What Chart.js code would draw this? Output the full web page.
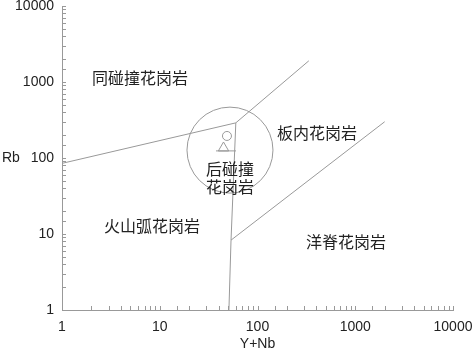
<!DOCTYPE html>
<html>
<head>
<meta charset="utf-8">
<script src="https://cdn.jsdelivr.net/npm/chart.js@4.4.1/dist/chart.umd.min.js"></script>
<style>
  html, body { margin: 0; padding: 0; background: #fff; }
  #wrap { width: 472px; height: 353px; }
</style>
</head>
<body>
<div id="wrap"><canvas id="pearceChart"></canvas></div>
<script>
// field boundaries, points are (Y+Nb, Rb)
const synColVagLine = [{x: 1, y: 85}, {x: 60, y: 290}];
const synColWpgLine = [{x: 60, y: 290}, {x: 335, y: 1900}];
const vagWpgLine = [{x: 60, y: 290}, {x: 53.6, y: 8.3}, {x: 51, y: 1}];
const orgWpgLine = [{x: 53.6, y: 8.3}, {x: 2000, y: 300}];
const postColCentre = [{x: 52.3, y: 127}];

// samples
const circleSamples = [{x: 48.7, y: 195}];
const triangleSamples = [{x: 44.9, y: 135.5}];
const dashSamples = [{x: 47.6, y: 124}];

// field names and where they sit (Y+Nb, Rb)
const fieldNames = ['同碰撞花岗岩', '板内花岗岩', '后碰撞', '花岗岩', '火山弧花岗岩', '洋脊花岗岩'];
const fieldX = [6.28, 406, 52.3, 52.3, 8.33, 804];
const fieldY = [1130, 213, 71.7, 41.5, 12.7, 7.85];

const tickLabels = [1, 10, 100, 1000, 10000];

const lineColor = '#999';

function boundary(points) {
    return {
        data: points,
        showLine: true,
        borderColor: lineColor,
        borderWidth: 1,
        pointRadius: 0,
        fill: false
    };
}

function marker(points, style, radius) {
    return {
        data: points,
        showLine: false,
        pointStyle: style,
        pointRadius: radius,
        pointBorderColor: lineColor,
        pointBackgroundColor: 'rgba(0,0,0,0)',
        pointBorderWidth: 1
    };
}

// inward ticks, field names, axis titles
const decorPlugin = {
    id: 'decor',
    afterDraw(chart) {
        const ctx = chart.ctx;
        const xs = chart.scales.x;
        const ys = chart.scales.y;
        const area = chart.chartArea;
        ctx.save();
        ctx.strokeStyle = lineColor;
        ctx.lineWidth = 1;
        ctx.beginPath();
        xs.ticks.forEach(t => {
            const px = Math.round(xs.getPixelForValue(t.value)) + 0.5;
            ctx.moveTo(px, area.bottom);
            ctx.lineTo(px, area.bottom - 4);
        });
        ys.ticks.forEach(t => {
            const py = Math.round(ys.getPixelForValue(t.value)) + 0.5;
            ctx.moveTo(area.left, py);
            ctx.lineTo(area.left + 4, py);
        });
        ctx.stroke();

        ctx.fillStyle = '#222';
        ctx.textAlign = 'center';
        ctx.textBaseline = 'middle';
        ctx.font = '16px "Noto Sans CJK SC"';
        fieldNames.forEach((name, i) => {
            ctx.fillText(name, xs.getPixelForValue(fieldX[i]), ys.getPixelForValue(fieldY[i]));
        });

        ctx.font = '14px "Liberation Sans"';
        ctx.fillText('Y+Nb', (area.left + area.right) / 2, 344);
        ctx.textAlign = 'left';
        ctx.fillText('Rb', 2, ys.getPixelForValue(100));
        ctx.restore();
    }
};

const tickFont = { family: '"Liberation Sans"', size: 14 };

function tickCallback(value) {
    return tickLabels.includes(value) ? String(value) : '';
}

const ctx = document.getElementById('pearceChart').getContext('2d');

new Chart(ctx, {
    type: 'scatter',
    data: {
        datasets: [
            boundary(synColVagLine),
            boundary(synColWpgLine),
            boundary(vagWpgLine),
            boundary(orgWpgLine),
            marker(postColCentre, 'circle', 43),
            marker(circleSamples, 'circle', 4.5),
            marker(triangleSamples, 'triangle', 6),
            marker(dashSamples, 'line', 10)
        ]
    },
    options: {
        responsive: true,
        maintainAspectRatio: false,
        animation: false,
        layout: { autoPadding: false, padding: { top: 6, right: 19, left: 0, bottom: 0 } },
        plugins: {
            legend: { display: false },
            tooltip: { enabled: false }
        },
        scales: {
            x: {
                type: 'logarithmic',
                min: 1,
                max: 10000,
                border: { color: lineColor, width: 1 },
                grid: { drawOnChartArea: false, drawTicks: false },
                ticks: {
                    autoSkip: false,
                    maxRotation: 0,
                    padding: 9,
                    color: '#222',
                    font: tickFont,
                    callback: tickCallback
                },
                afterFit(scale) {
                    scale.height = 43;
                    scale.paddingLeft = 0;
                    scale.paddingRight = 0;
                }
            },
            y: {
                type: 'logarithmic',
                min: 1,
                max: 10000,
                border: { color: lineColor, width: 1 },
                grid: { drawOnChartArea: false, drawTicks: false },
                ticks: {
                    autoSkip: false,
                    padding: 8,
                    color: '#222',
                    font: tickFont,
                    callback: tickCallback
                },
                afterFit(scale) {
                    scale.width = 62;
                    scale.paddingTop = 0;
                    scale.paddingBottom = 0;
                }
            }
        }
    },
    plugins: [decorPlugin]
});
</script>
</body>
</html>
